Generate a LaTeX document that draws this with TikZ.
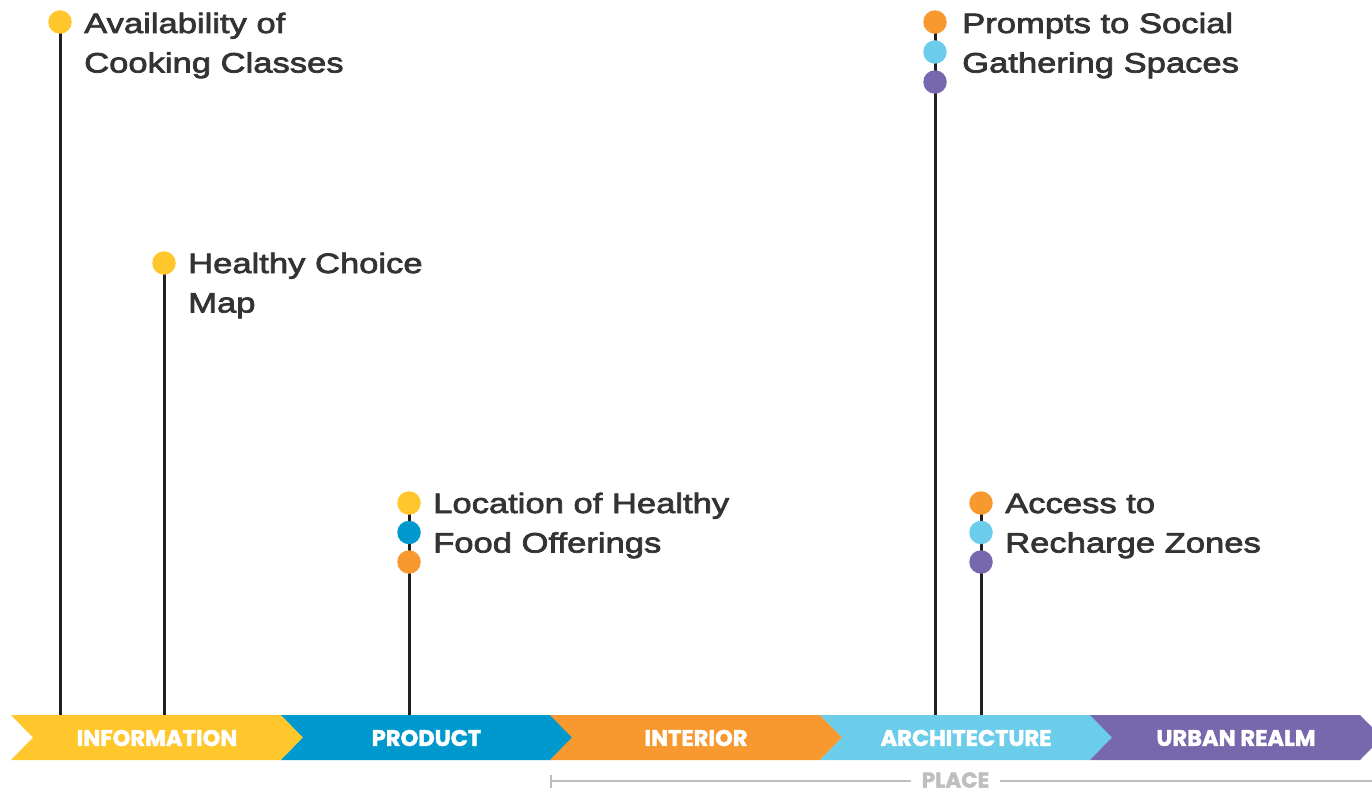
\documentclass[tikz,border=0pt]{standalone}
\usepackage{fontspec}
\newfontfamily\lblfont[FakeStretch=1.235,FakeBold=2.6]{Liberation Sans}
\newfontfamily\bandfont[FakeBold=1.8]{Poppins}
\definecolor{cyel}{HTML}{FFC72C}
\definecolor{cblue}{HTML}{0099CE}
\definecolor{corange}{HTML}{F7992F}
\definecolor{clblue}{HTML}{6CCDEB}
\definecolor{cpurple}{HTML}{7767AD}
\definecolor{ctext}{HTML}{333333}
\definecolor{cstem}{HTML}{231F20}
\definecolor{cgray}{HTML}{BCBEC0}
\tikzset{
  dot/.style={circle, fill=#1, minimum size=23.5pt, inner sep=0pt},
  stem/.style={draw=cstem, line width=3pt},
  lbl/.style={font=\lblfont\fontsize{28}{39.5}\selectfont, text=ctext, align=left, anchor=base west, inner sep=0pt},
  bandlbl/.style={font=\bandfont\bfseries\fontsize{22.6}{22.6}\selectfont, text=white, inner sep=0pt},
  placelbl/.style={font=\bandfont\bfseries\fontsize{21.5}{21.5}\selectfont, text=cgray, inner sep=0pt},
  chev/.style={fill=#1, draw=none}
}
\begin{document}
\begin{tikzpicture}[x=1pt,y=-1pt]
\useasboundingbox (0,0) rectangle (1372,791);
\clip (0,0) rectangle (1372,791);
% band chevrons
\foreach \x/\c in {11/cyel, 281/cblue, 550/corange, 820/clblue, 1090/cpurple}{
  \fill[chev=\c] (\x,715) -- ++(270,0) -- ++(22,22.5) -- ++(-22,22.5) -- ++(-270,0) -- ++(22,-22.5) -- cycle;
}
\node[bandlbl] (information) at (157,738) {INFORMATION};
\node[bandlbl] (product) at (426.5,738) {PRODUCT};
\node[bandlbl] (interior) at (696,738) {INTERIOR};
\node[bandlbl] (architecture) at (966,738) {ARCHITECTURE};
\node[bandlbl] (urban) at (1236,738) {URBAN REALM};
% place bracket
\node[placelbl] (place) at (955.5,780) {PLACE};
\coordinate (pl0) at (551,781);
\coordinate (pr0) at (1372,781);
\draw[cgray, line width=2pt] (551,774.5) -- (551,788);
\draw[cgray, line width=2pt] (pl0) -- ([xshift=-11pt]place.west |- pl0);
\draw[cgray, line width=2pt] ([xshift=11pt]place.east |- pr0) -- (pr0);
% band top coordinates for stems
\coordinate (b1) at (60,715);
\coordinate (b2) at (164,715);
\coordinate (b3) at (409,715);
\coordinate (b4) at (935,715);
\coordinate (b5) at (981,715);
% stems
\coordinate (s1) at (60,22);
\coordinate (s2) at (164,263);
\coordinate (s3) at (409,503);
\coordinate (s4) at (935,22);
\coordinate (s5) at (981,503);
\draw[stem] (s1) -- (b1);
\draw[stem] (s2) -- (b2);
\draw[stem] (s3) -- (b3);
\draw[stem] (s4) -- (b4);
\draw[stem] (s5) -- (b5);
% dots
\node[dot=cyel] (d1) at (60,22) {};
\node[dot=cyel] (d2) at (164,263) {};
\node[dot=cyel] (d3a) at (409,503) {};
\node[dot=cblue] (d3b) at (409,532.5) {};
\node[dot=corange] (d3c) at (409,562) {};
\node[dot=corange] (d4a) at (935,22) {};
\node[dot=clblue] (d4b) at (935,52) {};
\node[dot=cpurple] (d4c) at (935,82) {};
\node[dot=corange] (d5a) at (981,503) {};
\node[dot=clblue] (d5b) at (981,532.5) {};
\node[dot=cpurple] (d5c) at (981,562) {};
% labels (anchor = baseline of last line)
\node[lbl] (t1) at (84,72.5) {Availability of\\Cooking Classes};
\node[lbl] (t2) at (188,312.5) {Healthy Choice\\Map};
\node[lbl] (t3) at (433,552.5) {Location of Healthy\\Food Offerings};
\node[lbl] (t4) at (962,72.5) {Prompts to Social\\Gathering Spaces};
\node[lbl] (t5) at (1005,552.5) {Access to\\Recharge Zones};
\end{tikzpicture}
\end{document}
